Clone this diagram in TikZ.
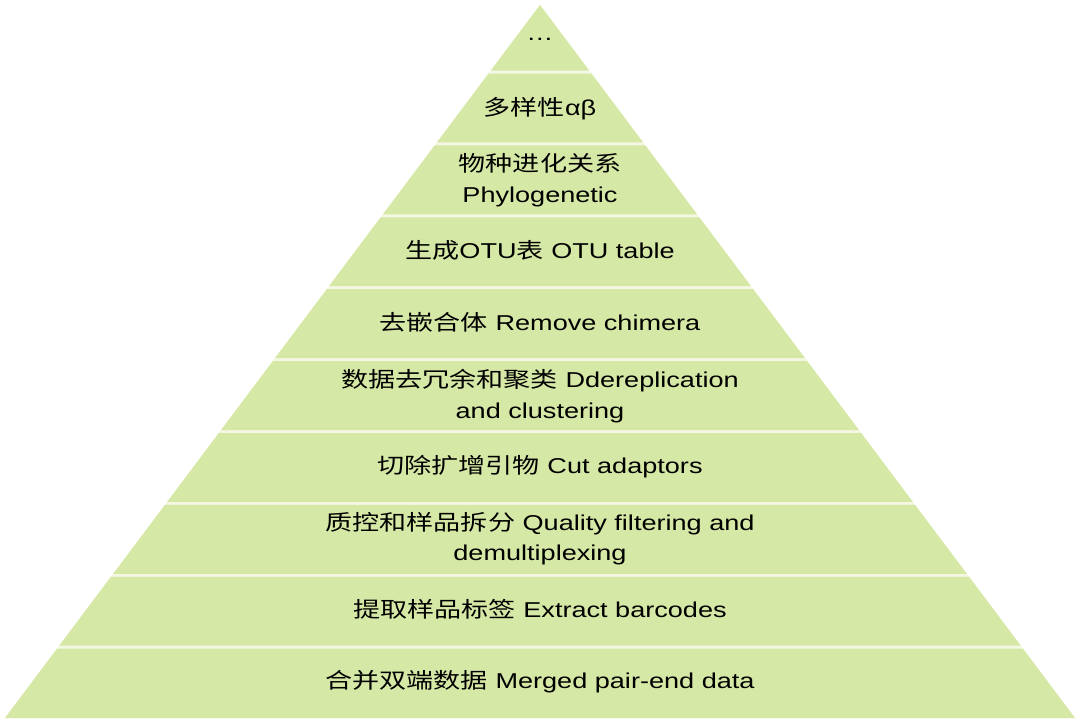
\documentclass[tikz,border=0pt]{standalone}
\usepackage{fontspec}
\usepackage{graphicx}
\setmainfont{Liberation Sans}
\newfontfamily\cjk{Noto Sans CJK SC}
\definecolor{layergreen}{HTML}{D6E8A5}
\definecolor{gapcream}{HTML}{F4F8E2}
\newcommand\pyrlayer[2]{%
  \pgfmathsetmacro\ta{(#1-5)/713*535}%
  \pgfmathsetmacro\tb{(#2-5)/713*535}%
  \fill[layergreen] (540-\ta,#1) -- (540+\ta,#1) -- (540+\tb,#2) -- (540-\tb,#2) -- cycle;}
\newcommand\wide[1]{\scalebox{1.26}[1]{#1}}
\newcommand\twolines[2]{\wide{\setlength\tabcolsep{0pt}\begin{tabular}{c}#1\\#2\end{tabular}}}
\tikzset{lbl/.style={font=\fontsize{21.5}{30.5}\selectfont, align=center, text=black, inner sep=0pt}}
\begin{document}
\begin{tikzpicture}[x=1pt,y=-1pt]
\useasboundingbox[fill=white] (0,0) rectangle (1080,721);
% whole pyramid in gap colour
\fill[gapcream] (540,5) -- (1075,718) -- (5,718) -- cycle;
% layers
\pyrlayer{5}{70.5}
\pyrlayer{73.5}{142.4}
\pyrlayer{145.4}{214.3}
\pyrlayer{217.3}{286.2}
\pyrlayer{289.2}{358.1}
\pyrlayer{361.1}{430.0}
\pyrlayer{433.0}{501.9}
\pyrlayer{504.9}{573.8}
\pyrlayer{576.8}{645.7}
\pyrlayer{648.7}{718}
% labels
\node[lbl] (l1) at (540,39) {\wide{…}};
\node[lbl] (l2) at (540,109) {\wide{{\cjk 多样性}αβ}};
\node[lbl] (l3) at (540,181) {\twolines{{\cjk 物种进化关系}}{Phylogenetic}};
\node[lbl] (l4) at (540,250) {\wide{{\cjk 生成}OTU{\cjk 表} OTU table}};
\node[lbl] (l5) at (540,322) {\wide{{\cjk 去嵌合体} Remove chimera}};
\node[lbl] (l6) at (540,397) {\twolines{{\cjk 数据去冗余和聚类} Ddereplication}{and clustering}};
\node[lbl] (l7) at (540,467) {\wide{{\cjk 切除扩增引物} Cut adaptors}};
\node[lbl] (l8) at (540,539.5) {\twolines{{\cjk 质控和样品拆分} Quality filtering and}{demultiplexing}};
\node[lbl] (l9) at (540,609) {\wide{{\cjk 提取样品标签} Extract barcodes}};
\node[lbl] (l10) at (540,682) {\wide{{\cjk 合并双端数据} Merged pair-end data}};
\end{tikzpicture}
\end{document}
